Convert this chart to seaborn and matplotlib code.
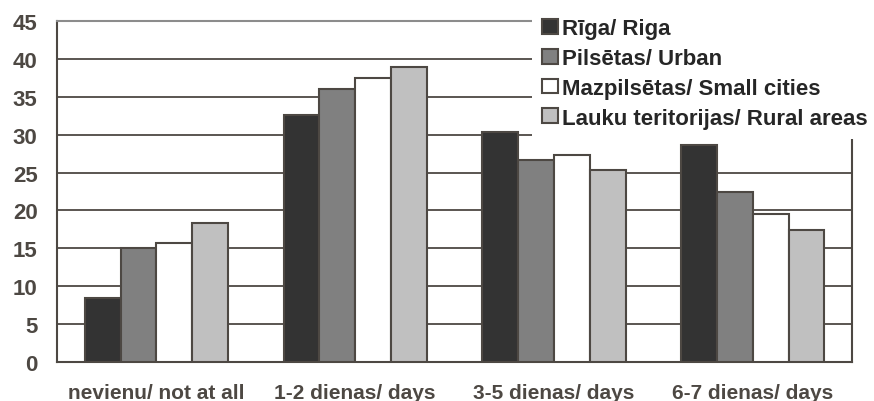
import numpy as np
import pandas as pd
import matplotlib
matplotlib.use("Agg")
import matplotlib.pyplot as plt
import seaborn as sns

sns.set_style("white")
plt.rcParams['font.family'] = 'Liberation Sans'
plt.rcParams['font.weight'] = 'bold'

# dados
categories = ["nevienu/ not at all", "1-2 dienas/ days", "3-5 dienas/ days", "6-7 dienas/ days"]
groups = ["Rīga/ Riga", "Pilsētas/ Urban", "Mazpilsētas/ Small cities", "Lauku teritorijas/ Rural areas"]
riga = [8.4, 32.6, 30.4, 28.6]
urban = [15.0, 36.0, 26.6, 22.5]
small = [15.7, 37.5, 27.3, 19.5]
rural = [18.3, 39.0, 25.4, 17.4]
colors = ["#333333", "#808080", "#ffffff", "#c0c0c0"]

df = pd.DataFrame({
    "cat": categories * 4,
    "group": np.repeat(groups, 4),
    "value": riga + urban + small + rural,
})

edge = "#4d4843"
fig = plt.figure(figsize=(8.74, 4.02), dpi=100)
ax = fig.add_axes([0.0652, 0.097, 0.9098, 0.848])

sns.barplot(data=df, x="cat", y="value", hue="group", order=categories, hue_order=groups,
            palette=colors, edgecolor=edge, linewidth=1.5, width=0.72, saturation=1, ax=ax,
            zorder=3)

ax.set_ylim(0, 45)
ax.set_xlim(-0.5, 3.5)
ax.set_yticks(range(0, 46, 5))
ax.yaxis.grid(True, color=edge, linewidth=1.3, zorder=0)
ax.set_axisbelow(True)
ax.set_xlabel("")
ax.set_ylabel("")

ax.set_xticks(np.arange(-0.5, 4, 1), minor=True)
ax.tick_params(axis="x", which="major", length=0, pad=15, labelsize=15, labelcolor=edge)
ax.tick_params(axis="x", which="minor", length=5, width=1.5, color=edge, direction="out")
ax.tick_params(axis="y", length=6, width=1.3, color=edge, direction="out", pad=8,
               labelsize=16, labelcolor=edge)

for s in ["left", "bottom", "right"]:
    ax.spines[s].set_color(edge)
    ax.spines[s].set_linewidth(1.5)
ax.spines["top"].set_color("#8c8c8c")
ax.spines["top"].set_linewidth(1.5)

leg = ax.legend(loc="upper left", bbox_to_anchor=(532 / 874, 1 - 9 / 402), bbox_transform=fig.transFigure,
                frameon=True, fancybox=False, edgecolor="none", facecolor="white", framealpha=1,
                prop={"family": "Liberation Sans", "weight": "bold", "size": 16},
                handlelength=0.72, handleheight=0.65,
                handletextpad=0.2, labelspacing=0.4, borderpad=0.45, borderaxespad=0)
leg.set_zorder(10)
for h in leg.legend_handles:
    h.set_edgecolor(edge)
    h.set_linewidth(1.5)

fig.savefig("out.png", dpi=100)
